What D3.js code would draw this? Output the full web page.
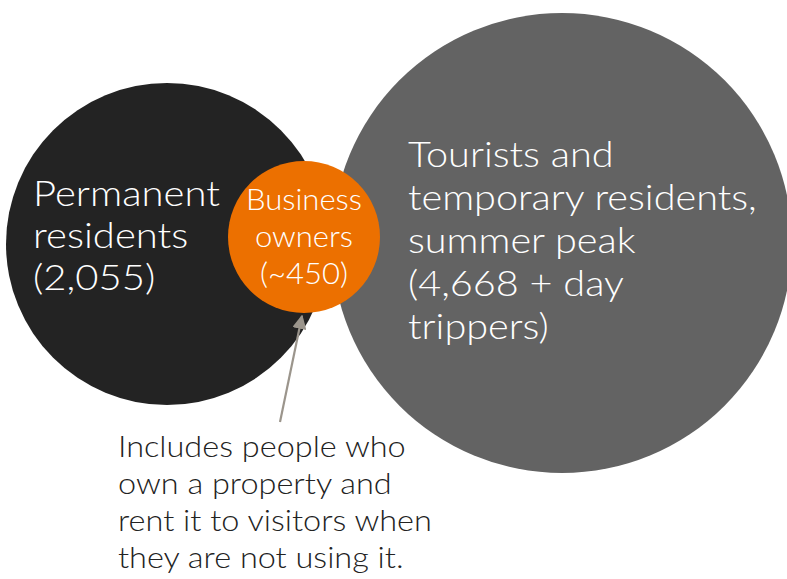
<!doctype html>
<html>

<head>
  <meta charset="utf-8">
  <title>d3</title>
  <style>
    body { margin: 0; background: #fff; }
    text { font-family: 'Lato', 'DejaVu Sans', sans-serif; font-weight: 300; }
  </style>
</head>

<body>
  <svg width="787" height="579"></svg>

  <script src="https://d3js.org/d3.v7.min.js"></script>
  <script>
    // data
    const groups = ['Permanent residents', 'Business owners', 'Tourists and temporary residents'];
    const counts = [2055, 450, 4668];
    const labels = [
      ['Permanent', 'residents', '(2,055)'],
      ['Business', 'owners', '(~450)'],
      ['Tourists and', 'temporary residents,', 'summer peak', '(4,668 + day', 'trippers)']
    ];
    const note = ['Includes people who', 'own a property and', 'rent it to visitors when', 'they are not using it.'];

    const svg = d3.select('svg');

    // size of the bubbles (hand drawn, roughly sqrt of the counts)
    const r = d3.scaleLinear()
      .domain([450, 2055, 4668])
      .range([76, 161, 230]);

    // layout: where each bubble sits
    const layout = [
      { cx: 167, cy: 244, fill: '#232323', anchor: 'start', tx: 33, ty: 206, size: 35, lh: 42, width: 187 },
      { cx: 304, cy: 237, fill: '#ec7000', anchor: 'middle', tx: 304, ty: 210, size: 29, lh: 37, width: 116 },
      { cx: 562, cy: 243, fill: '#636363', anchor: 'start', tx: 408, ty: 167, size: 35, lh: 43, width: 349 }
    ];
    const data = groups.map((g, i) => ({ name: g, value: counts[i], lines: labels[i], ...layout[i] }));

    // draw big ones first, orange on top
    const order = [0, 2, 1];
    svg.selectAll('circle')
      .data(order.map(i => data[i]))
      .join('circle')
      .attr('cx', d => d.cx)
      .attr('cy', d => d.cy)
      .attr('r', d => r(d.value))
      .attr('fill', d => d.fill);

    // labels
    data.forEach(d => {
      const t = svg.append('text')
        .attr('fill', '#fff')
        .attr('font-size', d.size)
        .attr('text-anchor', d.anchor);
      t.selectAll('tspan')
        .data(d.lines)
        .join('tspan')
        .attr('x', d.tx)
        .attr('y', (s, j) => d.ty + j * d.lh)
        .text(s => s);
      // squeeze/stretch the longest line to the reference width
      let maxW = 0;
      t.selectAll('tspan').each(function () { maxW = Math.max(maxW, this.getComputedTextLength()); });
      const k = d.width / maxW;
      t.attr('transform', `translate(${d.tx},0) scale(${k},1) translate(${-d.tx},0)`);
    });

    // arrow
    const arrowColor = '#9b958c';
    svg.append('defs').append('marker')
      .attr('id', 'head')
      .attr('viewBox', '0 0 10 10')
      .attr('refX', 9).attr('refY', 5)
      .attr('markerWidth', 6.5).attr('markerHeight', 6.5)
      .attr('orient', 'auto')
      .append('path')
      .attr('d', 'M0,0L10,5L0,10z')
      .attr('fill', arrowColor);

    svg.append('line')
      .attr('x1', 280).attr('y1', 422)
      .attr('x2', 302).attr('y2', 316)
      .attr('stroke', arrowColor)
      .attr('stroke-width', 2.2)
      .attr('marker-end', 'url(#head)');

    // note
    const nt = svg.append('text')
      .attr('fill', '#222')
      .attr('font-size', 30);
    nt.selectAll('tspan')
      .data(note)
      .join('tspan')
      .attr('x', 118)
      .attr('y', (s, j) => 457 + j * 37)
      .text(s => s);
    let w = 0;
    nt.selectAll('tspan').each(function () { w = Math.max(w, this.getComputedTextLength()); });
    nt.attr('transform', `translate(118,0) scale(${314 / w},1) translate(-118,0)`);
  </script>
</body>

</html>
